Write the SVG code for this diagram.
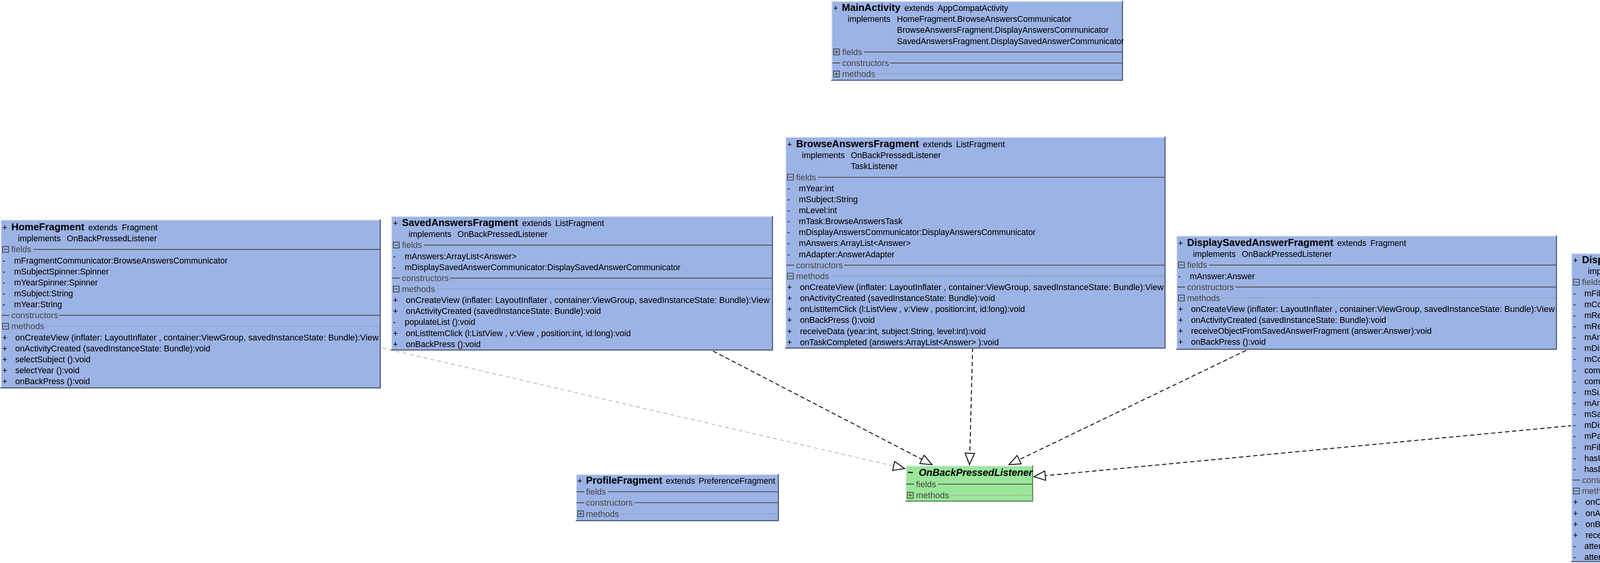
<svg xmlns="http://www.w3.org/2000/svg" xmlns:xlink="http://www.w3.org/1999/xlink" width="4998" height="1442" viewBox="0 0 4998 1442">
<style>
text{font-family:"Liberation Sans",Arial,sans-serif;font-size:21.4px;fill:#000}
.b{font-weight:bold;font-size:25.5px}
.bi{font-weight:bold;font-style:italic;font-size:25.2px}
.sec{fill:#4a4a4a;font-size:22px}
.bx{fill:#9cb3e5}
.gx{fill:#9be59b}
.hl{fill:none;stroke:#e6ebf7;stroke-width:2.5}
.sh{fill:none;stroke:#56637e;stroke-width:3}
.gsh{fill:none;stroke:#5e8f5e;stroke-width:3}
.sl{stroke:#4f4f4f;stroke-width:2.2}
.dl{stroke:#6a6a6a;stroke-width:1.4;stroke-dasharray:1.4 2}
.dk{fill:none;stroke:#000;stroke-width:2.2;stroke-dasharray:11 7}
.lt{fill:none;stroke:#bdbdbd;stroke-width:2.2;stroke-dasharray:10 8}
.ic{fill:none;stroke:#3a3a3a;stroke-width:1.8}
</style>
<defs>
<marker id="tri" markerUnits="userSpaceOnUse" viewBox="0 0 34 28" markerWidth="34" markerHeight="28" refX="32" refY="14" orient="auto" overflow="visible">
<path d="M3,2 L32,14 L3,26 Z" fill="#fff" stroke="#000" stroke-width="2.2" stroke-dasharray="none"/>
</marker>
<g id="mi"><rect class="ic" x="0.9" y="0.9" width="15" height="15"/><path class="ic" d="M3.5 8.4H13.3"/></g>
<g id="pl"><rect class="ic" x="0.9" y="0.9" width="15" height="15"/><path class="ic" d="M3.5 8.4H13.3M8.4 3.5V13.3"/></g>
<path id="em" d="M0 0H20" stroke="#444" stroke-width="2.2"/>
</defs>
<rect width="4998" height="1442" fill="#fff"/>

<g id="connectors">
<line class="lt" x1="488" y1="778" x2="2316" y2="1200" marker-end="url(#tri)"/>
<line class="dk" x1="1490" y1="725" x2="2386" y2="1190" marker-end="url(#tri)"/>
<line class="dk" x1="2497" y1="621" x2="2482" y2="1190" marker-end="url(#tri)"/>
<line class="dk" x1="3498" y1="749" x2="2583" y2="1190" marker-end="url(#tri)"/>
<line class="dk" x1="4509" y1="1044" x2="2647" y2="1221" marker-end="url(#tri)"/>
</g>

<g id="MainActivity">
<rect class="bx" x="2128" y="2" width="747" height="205"/>
<path class="hl" d="M2129.2,207V3.2H2875"/>
<path class="sh" d="M2128,205.5H2873.5V2"/>
<text x="2133" y="28">+</text>
<text x="2155" y="28"><tspan class="b">MainActivity</tspan><tspan dx="10">extends</tspan><tspan dx="10">AppCompatActivity</tspan></text>
<text x="2170" y="56.2">implements</text>
<text x="2296" y="56.2">HomeFragment.BrowseAnswersCommunicator</text>
<text x="2296" y="84.3">BrowseAnswersFragment.DisplayAnswersCommunicator</text>
<text x="2296" y="112.5">SavedAnswersFragment.DisplaySavedAnswerCommunicator</text>
<use href="#pl" x="2133" y="124.6"/><text class="sec" x="2156" y="140.6">fields</text><path class="sl" d="M2212,133.1H2872"/>
<use href="#em" x="2131" y="161.3"/><text class="sec" x="2156" y="168.8">constructors</text><path class="sl" d="M2279,161.3H2872"/>
<use href="#pl" x="2133" y="180.9"/><text class="sec" x="2156" y="196.9">methods</text><path class="dl" d="M2245,189.4H2872"/>
</g>

<g id="HomeFragment">
<rect class="bx" x="1" y="562" width="974" height="433"/>
<path class="hl" d="M2.2,995V563.2H975"/>
<path class="sh" d="M1,993.5H973.5V562"/>
<text x="6" y="590">+</text>
<text x="29" y="590"><tspan class="b">HomeFragment</tspan><tspan dx="10">extends</tspan><tspan dx="11">Fragment</tspan></text>
<text x="46" y="618.2">implements</text>
<text x="171" y="618.2">OnBackPressedListener</text>
<use href="#mi" x="6" y="630.3"/><text class="sec" x="29" y="646.3">fields</text><path class="sl" d="M85,638.8H972"/>
<text x="6" y="674.5">-</text><text x="36" y="674.5">mFragmentCommunicator:BrowseAnswersCommunicator</text>
<text x="6" y="702.6">-</text><text x="36" y="702.6">mSubjectSpinner:Spinner</text>
<text x="6" y="730.8">-</text><text x="36" y="730.8">mYearSpinner:Spinner</text>
<text x="6" y="758.9">-</text><text x="36" y="758.9">mSubject:String</text>
<text x="6" y="787.1">-</text><text x="36" y="787.1">mYear:String</text>
<use href="#em" x="4" y="807.7"/><text class="sec" x="29" y="815.2">constructors</text><path class="sl" d="M152,807.7H972"/>
<use href="#mi" x="6" y="827.4"/><text class="sec" x="29" y="843.4">methods</text><path class="dl" d="M118,835.9H972"/>
<text x="6" y="871.5">+</text><text x="39" y="871.5" textLength="930" lengthAdjust="spacingAndGlyphs">onCreateView (inflater: LayoutInflater , container:ViewGroup, savedInstanceState: Bundle):View</text>
<text x="6" y="899.7">+</text><text x="39" y="899.7">onActivityCreated (savedInstanceState: Bundle):void</text>
<text x="6" y="927.8">+</text><text x="39" y="927.8">selectSubject ():void</text>
<text x="6" y="956">+</text><text x="39" y="956">selectYear ():void</text>
<text x="6" y="984.1">+</text><text x="39" y="984.1">onBackPress ():void</text>
</g>

<g id="SavedAnswersFragment">
<rect class="bx" x="1001" y="553" width="978" height="345"/>
<path class="hl" d="M1002.2,898V554.2H1979"/>
<path class="sh" d="M1001,896.5H1977.5V553"/>
<text x="1006" y="579">+</text>
<text x="1029" y="579"><tspan class="b">SavedAnswersFragment</tspan><tspan dx="10">extends</tspan><tspan dx="10">ListFragment</tspan></text>
<text x="1046" y="607.2">implements</text>
<text x="1171" y="607.2">OnBackPressedListener</text>
<use href="#mi" x="1006" y="619.3"/><text class="sec" x="1029" y="635.3">fields</text><path class="sl" d="M1085,627.8H1976"/>
<text x="1006" y="663.5">-</text><text x="1036" y="663.5">mAnswers:ArrayList&lt;Answer&gt;</text>
<text x="1006" y="691.6">-</text><text x="1036" y="691.6">mDisplaySavedAnswerCommunicator:DisplaySavedAnswerCommunicator</text>
<use href="#em" x="1004" y="712.3"/><text class="sec" x="1029" y="719.8">constructors</text><path class="sl" d="M1152,712.3H1976"/>
<use href="#mi" x="1006" y="731.9"/><text class="sec" x="1029" y="747.9">methods</text><path class="dl" d="M1118,740.4H1976"/>
<text x="1006" y="776.1">+</text><text x="1039" y="776.1" textLength="931" lengthAdjust="spacingAndGlyphs">onCreateView (inflater: LayoutInflater , container:ViewGroup, savedInstanceState: Bundle):View</text>
<text x="1006" y="804.2">+</text><text x="1039" y="804.2">onActivityCreated (savedInstanceState: Bundle):void</text>
<text x="1006" y="832.4">-</text><text x="1036" y="832.4">populateList ():void</text>
<text x="1006" y="860.5">+</text><text x="1039" y="860.5">onListItemClick (l:ListView , v:View , position:int, id:long):void</text>
<text x="1006" y="888.7">+</text><text x="1039" y="888.7">onBackPress ():void</text>
</g>

<g id="BrowseAnswersFragment">
<rect class="bx" x="2010" y="350" width="974" height="543"/>
<path class="hl" d="M2011.2,893V351.2H2984"/>
<path class="sh" d="M2010,891.5H2982.5V350"/>
<text x="2015" y="377">+</text>
<text x="2038" y="377"><tspan class="b">BrowseAnswersFragment</tspan><tspan dx="10">extends</tspan><tspan dx="10">ListFragment</tspan></text>
<text x="2053" y="405.2">implements</text>
<text x="2178" y="405.2">OnBackPressedListener</text>
<text x="2178" y="433.3">TaskListener</text>
<use href="#mi" x="2015" y="445.5"/><text class="sec" x="2038" y="461.5">fields</text><path class="sl" d="M2094,454H2981"/>
<text x="2015" y="489.6">-</text><text x="2045" y="489.6">mYear:int</text>
<text x="2015" y="517.8">-</text><text x="2045" y="517.8">mSubject:String</text>
<text x="2015" y="545.9">-</text><text x="2045" y="545.9">mLevel:int</text>
<text x="2015" y="574.1">-</text><text x="2045" y="574.1">mTask:BrowseAnswersTask</text>
<text x="2015" y="602.2">-</text><text x="2045" y="602.2">mDisplayAnswersCommunicator:DisplayAnswersCommunicator</text>
<text x="2015" y="630.4">-</text><text x="2045" y="630.4">mAnswers:ArrayList&lt;Answer&gt;</text>
<text x="2015" y="658.5">-</text><text x="2045" y="658.5">mAdapter:AnswerAdapter</text>
<use href="#em" x="2013" y="679.2"/><text class="sec" x="2038" y="686.7">constructors</text><path class="sl" d="M2161,679.2H2981"/>
<use href="#mi" x="2015" y="698.8"/><text class="sec" x="2038" y="714.8">methods</text><path class="dl" d="M2127,707.3H2981"/>
<text x="2015" y="743">+</text><text x="2048" y="743" textLength="931" lengthAdjust="spacingAndGlyphs">onCreateView (inflater: LayoutInflater , container:ViewGroup, savedInstanceState: Bundle):View</text>
<text x="2015" y="771.1">+</text><text x="2048" y="771.1">onActivityCreated (savedInstanceState: Bundle):void</text>
<text x="2015" y="799.3">+</text><text x="2048" y="799.3">onListItemClick (l:ListView , v:View , position:int, id:long):void</text>
<text x="2015" y="827.4">+</text><text x="2048" y="827.4">onBackPress ():void</text>
<text x="2015" y="855.6">+</text><text x="2048" y="855.6">receiveData (year:int, subject:String, level:int):void</text>
<text x="2015" y="883.7">+</text><text x="2048" y="883.7">onTaskCompleted (answers:ArrayList&lt;Answer&gt; ):void</text>
</g>

<g id="DisplaySavedAnswerFragment">
<rect class="bx" x="3011" y="603" width="975" height="293"/>
<path class="hl" d="M3012.2,896V604.2H3986"/>
<path class="sh" d="M3011,894.5H3984.5V603"/>
<text x="3016" y="630">+</text>
<text x="3039" y="630"><tspan class="b">DisplaySavedAnswerFragment</tspan><tspan dx="10">extends</tspan><tspan dx="10">Fragment</tspan></text>
<text x="3054" y="658.2">implements</text>
<text x="3179" y="658.2">OnBackPressedListener</text>
<use href="#mi" x="3016" y="670.3"/><text class="sec" x="3039" y="686.3">fields</text><path class="sl" d="M3095,678.8H3983"/>
<text x="3016" y="714.5">-</text><text x="3046" y="714.5">mAnswer:Answer</text>
<use href="#em" x="3014" y="735.1"/><text class="sec" x="3039" y="742.6">constructors</text><path class="sl" d="M3162,735.1H3983"/>
<use href="#mi" x="3016" y="754.8"/><text class="sec" x="3039" y="770.8">methods</text><path class="dl" d="M3128,763.3H3983"/>
<text x="3016" y="798.9">+</text><text x="3049" y="798.9" textLength="931" lengthAdjust="spacingAndGlyphs">onCreateView (inflater: LayoutInflater , container:ViewGroup, savedInstanceState: Bundle):View</text>
<text x="3016" y="827.1">+</text><text x="3049" y="827.1">onActivityCreated (savedInstanceState: Bundle):void</text>
<text x="3016" y="855.2">+</text><text x="3049" y="855.2">receiveObjectFromSavedAnswerFragment (answer:Answer):void</text>
<text x="3016" y="883.4">+</text><text x="3049" y="883.4">onBackPress ():void</text>
</g>

<g id="DisplayAnswerFragment">
<rect class="bx" x="4022" y="648" width="974" height="792"/>
<path class="hl" d="M4023.2,1440V649.2H4996"/>
<path class="sh" d="M4022,1438.5H4994.5V648"/>
<text x="4027" y="674">+</text>
<text x="4050" y="674"><tspan class="b">DisplayAnswerFragment</tspan><tspan dx="10">extends</tspan><tspan dx="10">Fragment</tspan></text>
<text x="4065" y="702.2">implements</text>
<text x="4190" y="702.2">OnBackPressedListener</text>
<use href="#mi" x="4027" y="714.3"/><text class="sec" x="4050" y="730.3">fields</text><path class="sl" d="M4106,722.8H4993"/>
<text x="4027" y="758.5">-</text><text x="4056" y="758.5">mFileTask:FileDownloadTask</text>
<text x="4027" y="786.6">-</text><text x="4056" y="786.6">mCommentTask:SubmitCommentTask</text>
<text x="4027" y="814.8">-</text><text x="4056" y="814.8">mReputationTask:ReputationTask</text>
<text x="4027" y="842.9">-</text><text x="4056" y="842.9">mReportTask:ReportTask</text>
<text x="4027" y="871.1">-</text><text x="4056" y="871.1">mAnswer:Answer</text>
<text x="4027" y="899.2">-</text><text x="4056" y="899.2">mDisplayVotesView :TextView</text>
<text x="4027" y="927.4">-</text><text x="4056" y="927.4">mComment:EditText</text>
<text x="4027" y="955.5">-</text><text x="4056" y="955.5">commentList:ArrayList&lt;Comment&gt;</text>
<text x="4027" y="983.7">-</text><text x="4056" y="983.7">commentAdapter:CommentAdapter</text>
<text x="4027" y="1011.8">-</text><text x="4056" y="1011.8">mSubmitCommentButton:ImageButton</text>
<text x="4027" y="1040">-</text><text x="4056" y="1040">mAnswerAuthorView :TextView</text>
<text x="4027" y="1068.1">-</text><text x="4056" y="1068.1">mSaveAnswerButton :ImageButton</text>
<text x="4027" y="1096.3">-</text><text x="4056" y="1096.3">mDisplayCommentsView:ListView</text>
<text x="4027" y="1124.4">-</text><text x="4056" y="1124.4">mPaths :HashMap&lt;String, File&gt;</text>
<text x="4027" y="1152.6">-</text><text x="4056" y="1152.6">mFiles:ArrayList&lt;File&gt;</text>
<text x="4027" y="1180.7">-</text><text x="4056" y="1180.7">hasUpVoted :Boolean</text>
<text x="4027" y="1208.9">-</text><text x="4056" y="1208.9">hasDownVoted :Boolean</text>
<use href="#em" x="4025" y="1229.5"/><text class="sec" x="4050" y="1237">constructors</text><path class="sl" d="M4173,1229.5H4993"/>
<use href="#mi" x="4027" y="1249.2"/><text class="sec" x="4050" y="1265.2">methods</text><path class="dl" d="M4139,1257.7H4993"/>
<text x="4027" y="1293.3">+</text><text x="4059" y="1293.3" textLength="930" lengthAdjust="spacingAndGlyphs">onCreateView (inflater: LayoutInflater , container:ViewGroup, savedInstanceState: Bundle):View</text>
<text x="4027" y="1321.5">+</text><text x="4059" y="1321.5">onActivityCreated (savedInstanceState: Bundle):void</text>
<text x="4027" y="1349.6">+</text><text x="4059" y="1349.6">onBackPress ():void</text>
<text x="4027" y="1377.8">+</text><text x="4059" y="1377.8">receiveObject (answer:Answer):void</text>
<text x="4027" y="1405.9">-</text><text x="4056" y="1405.9">attemptReport ():void</text>
<text x="4027" y="1434.1">-</text><text x="4056" y="1434.1">attemptComment ():void</text>
</g>

<g id="ProfileFragment">
<rect class="bx" x="1474" y="1214" width="520" height="121"/>
<path class="hl" d="M1475.2,1335V1215.2H1994"/>
<path class="sh" d="M1474,1333.5H1992.5V1214"/>
<text x="1478" y="1239">+</text>
<text x="1500" y="1239"><tspan class="b">ProfileFragment</tspan><tspan dx="9">extends</tspan><tspan dx="9">PreferenceFragment</tspan></text>
<use href="#em" x="1476" y="1259.5"/><text class="sec" x="1500" y="1267">fields</text><path class="sl" d="M1556,1259.5H1991"/>
<use href="#em" x="1476" y="1287.5"/><text class="sec" x="1500" y="1295">constructors</text><path class="sl" d="M1623,1287.5H1991"/>
<use href="#pl" x="1478" y="1307.5"/><text class="sec" x="1500" y="1323.5">methods</text><path class="dl" d="M1589,1316H1991"/>
</g>

<g id="OnBackPressedListener">
<rect class="gx" x="2318" y="1192" width="327" height="93"/>
<path class="hl" d="M2319.2,1285V1193.2H2645"/>
<path class="gsh" d="M2318,1283.5H2643.5V1192"/>
<text class="b" x="2323" y="1219">~</text>
<text class="bi" x="2352" y="1219">OnBackPressedListener</text>
<use href="#em" x="2320" y="1240"/><text class="sec" x="2345" y="1247.5">fields</text><path class="sl" d="M2401,1240H2642"/>
<use href="#pl" x="2322" y="1260"/><text class="sec" x="2345" y="1276">methods</text><path class="dl" d="M2434,1268.5H2642"/>
</g>
</svg>
